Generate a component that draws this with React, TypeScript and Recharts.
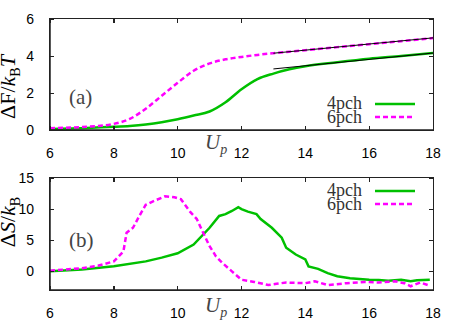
import React from "react";
import { LineChart, Line, XAxis, YAxis } from "recharts";

// (a) free energy
const fX = [6, 7, 8, 8.5, 9, 9.5, 10, 10.5, 11, 11.5, 12, 12.5, 13, 13.5, 14, 15, 16, 17, 18];
const f4 = [0.05, 0.1, 0.17, 0.22, 0.3, 0.42, 0.58, 0.78, 1.0, 1.5, 2.2, 2.75, 3.05, 3.28, 3.45, 3.66, 3.85, 4.0, 4.16];
const f6 = [0.1, 0.16, 0.33, 0.6, 1.15, 1.85, 2.55, 3.2, 3.6, 3.82, 3.95, 4.06, 4.15, 4.23, 4.31, 4.48, 4.64, 4.8, 4.97];
const fitX = [13, 18];
const fit4 = [3.3, 4.16];
const fit6 = [4.15, 4.98];

// (b) entropy
const s4X = [6, 7, 8, 9, 9.5, 10, 10.5, 11, 11.3, 11.5, 11.7, 11.9, 12, 12.2, 12.47, 12.6, 12.95, 13.26, 13.4, 13.7, 14, 14.1, 14.4, 14.7, 15, 15.4, 16, 16.3, 16.6, 17, 17.3, 17.5, 17.9];
const s4 = [0, 0.3, 0.8, 1.6, 2.2, 2.9, 4.3, 7.0, 8.9, 9.2, 9.7, 10.3, 10.0, 9.6, 9.2, 8.4, 7.0, 5.4, 3.8, 2.7, 1.9, 0.8, 0.4, -0.3, -0.8, -1.1, -1.35, -1.4, -1.5, -1.35, -1.6, -1.45, -1.35];
const s6X = [6, 7, 7.5, 8, 8.3, 8.4, 8.6, 8.8, 9.0, 9.3, 9.6, 9.9, 10.1, 10.4, 10.6, 10.8, 11.0, 11.2, 11.4, 11.7, 12, 12.4, 12.84, 13.1, 13.4, 14, 14.3, 14.7, 15.3, 15.85, 16.3, 16.8, 17.1, 17.3, 17.6, 17.9];
const s6 = [0.1, 0.5, 0.9, 1.6, 3.2, 6.2, 7.0, 8.9, 10.7, 11.4, 12.05, 11.9, 11.6, 9.5, 8.4, 6.2, 4.05, 2.4, 1.35, 0, -1.35, -1.7, -2.2, -2.0, -1.8, -1.9, -1.6, -2.2, -1.9, -1.7, -1.8, -1.6, -1.9, -2.4, -1.8, -2.3];

const xTicks = [6, 8, 10, 12, 14, 16, 18];
const xDomain: [number, number] = [6, 18];
const fDomain: [number, number] = [0, 6];
const fTicks = [0, 2, 4, 6];
const sDomain: [number, number] = [-3, 15];
const sTicks = [0, 5, 10, 15];

const GREEN = "#00c000";
const MAGENTA = "#ff00ff";
const W = 458;
const H = 163;
const LEFT = 50;
const RIGHT = 25;
const tickFont = { fontSize: 14, fill: "#000", fontFamily: "Liberation Sans, Arial, sans-serif" };
const serif = "Liberation Serif, Times New Roman, serif";

const pts = (xs: number[], ys: number[]) => xs.map((x, i) => ({ x, y: ys[i] }));

function axes(yDomain: [number, number], yTicks: number[], xH: number) {
  return [
    <XAxis key="xb" dataKey="x" type="number" domain={xDomain} ticks={xTicks} height={xH}
      stroke="#222" strokeWidth={1.5} tickLine={false} tickMargin={12} tick={tickFont} />,
    <YAxis key="yl" type="number" domain={yDomain} ticks={yTicks} width={LEFT}
      stroke="#222" strokeWidth={1.5} tickLine={false} tickMargin={10} tick={tickFont} />,
  ];
}

// border box (css) and small inward ticks, gnuplot style
function Frame({ top, plotTop, plotH, yDomain, yTicks }: { top: number; plotTop: number; plotH: number; yDomain: [number, number]; yTicks: number[] }) {
  const plotW = W - LEFT - RIGHT;
  const px = (v: number) => ((v - xDomain[0]) / (xDomain[1] - xDomain[0])) * plotW;
  const py = (v: number) => plotH - ((v - yDomain[0]) / (yDomain[1] - yDomain[0])) * plotH;
  const tick = (style: React.CSSProperties, key: string) => (
    <div key={key} style={{ position: "absolute", background: "#222", ...style }} />
  );
  return (
    <div style={{ position: "absolute", left: LEFT - 1, top: top + plotTop - 1, width: plotW, height: plotH, border: "1.5px solid #222", pointerEvents: "none", zIndex: 5 }}>
      {xTicks.map((t) => [
        tick({ left: px(t) - 0.5, top: plotH - 4, width: 1.2, height: 4 }, "xb" + t),
        tick({ left: px(t) - 0.5, top: 0, width: 1.2, height: 4 }, "xt" + t),
      ])}
      {yTicks.map((t) => [
        tick({ left: 0, top: py(t) - 0.5, width: 4, height: 1.2 }, "yl" + t),
        tick({ left: plotW - 4, top: py(t) - 0.5, width: 4, height: 1.2 }, "yr" + t),
      ])}
    </div>
  );
}

const LegendBox = ({ top }: { top: number }) => (
  <svg width={130} height={34} style={{ position: "absolute", left: 290, top }}>
    <text x={72} y={13} textAnchor="end" fontFamily={serif} fontSize={18} fill="#333">4pch</text>
    <line x1={85} x2={125} y1={8} y2={8} stroke={GREEN} strokeWidth={2.5} />
    <text x={72} y={27} textAnchor="end" fontFamily={serif} fontSize={18} fill="#333">6pch</text>
    <line x1={85} x2={125} y1={21} y2={21} stroke={MAGENTA} strokeWidth={2.5} strokeDasharray="5 3" />
  </svg>
);

const Up = ({ top }: { top: number }) => (
  <div style={{ position: "absolute", left: 205, top, fontFamily: serif, fontSize: 21, fontStyle: "italic", color: "#444", lineHeight: "20px" }}>
    U<sub style={{ fontSize: 14 }}>p</sub>
  </div>
);

export default function App() {
  return (
    <div style={{ position: "absolute", left: 0, top: 0, width: W, height: 326, background: "#fff" }}>
      <div style={{ position: "absolute", left: 0, top: 0 }}>
        <LineChart width={W} height={H} margin={{ top: 19, right: RIGHT, bottom: 0, left: 0 }}>
          {axes(fDomain, fTicks, 33)}
          <Line data={pts(fX, f4)} dataKey="y" type="monotone" stroke={GREEN} strokeWidth={2.5} dot={false} isAnimationActive={false} />
          <Line data={pts(fX, f6)} dataKey="y" type="monotone" stroke={MAGENTA} strokeWidth={2.5} strokeDasharray="5 3" dot={false} isAnimationActive={false} />
          <Line data={pts(fitX, fit4)} dataKey="y" type="linear" stroke="#000" strokeWidth={1} dot={false} isAnimationActive={false} />
          <Line data={pts(fitX, fit6)} dataKey="y" type="linear" stroke="#000" strokeWidth={1} dot={false} isAnimationActive={false} />
        </LineChart>
      </div>
      <div style={{ position: "absolute", left: 0, top: H }}>
        <LineChart width={W} height={H} margin={{ top: 15, right: RIGHT, bottom: 0, left: 0 }}>
          {axes(sDomain, sTicks, 36)}
          <Line data={pts(s4X, s4)} dataKey="y" type="linear" stroke={GREEN} strokeWidth={2.5} dot={false} isAnimationActive={false} />
          <Line data={pts(s6X, s6)} dataKey="y" type="linear" stroke={MAGENTA} strokeWidth={2.5} strokeDasharray="5 3" dot={false} isAnimationActive={false} />
        </LineChart>
      </div>
      <Frame top={0} plotTop={19} plotH={H - 19 - 33} yDomain={fDomain} yTicks={fTicks} />
      <Frame top={H} plotTop={15} plotH={H - 15 - 36} yDomain={sDomain} yTicks={sTicks} />
      <LegendBox top={96} />
      <LegendBox top={183} />
      <div style={{ position: "absolute", left: 69, top: 85, fontFamily: serif, fontSize: 21, color: "#444" }}>(a)</div>
      <div style={{ position: "absolute", left: 69, top: 228, fontFamily: serif, fontSize: 21, color: "#444" }}>(b)</div>
      <Up top={132} />
      <Up top={295} />
      <div style={{ position: "absolute", left: 12, top: 87, transform: "translate(-50%, -50%) rotate(-90deg)", whiteSpace: "nowrap", fontFamily: serif, fontSize: 22, color: "#000", lineHeight: "24px" }}>
        ΔF/<i>k</i><sub style={{ fontSize: 14 }}>B</sub><i>T</i>
      </div>
      <div style={{ position: "absolute", left: 12, top: 222, transform: "translate(-50%, -50%) rotate(-90deg)", whiteSpace: "nowrap", fontFamily: serif, fontSize: 22, color: "#000", lineHeight: "24px" }}>
        Δ<i>S</i>/<i>k</i><sub style={{ fontSize: 14 }}>B</sub>
      </div>
    </div>
  );
}
